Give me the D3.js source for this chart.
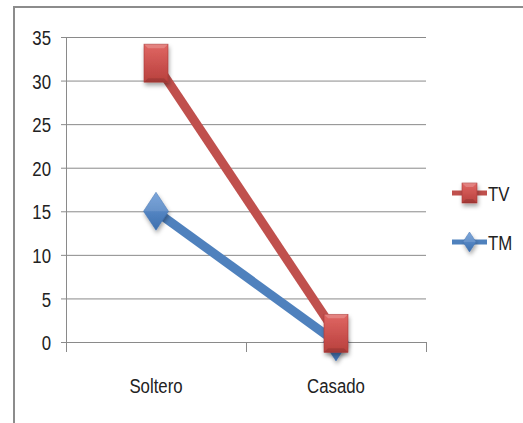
<!DOCTYPE html>
<html><head><meta charset="utf-8">
<script src="https://cdn.jsdelivr.net/npm/d3@7"></script>
<style>
body{margin:0;background:#fff;}
text{font-family:"Liberation Sans Narrow","Arial Narrow","Liberation Sans",sans-serif;fill:#222;}
</style></head>
<body>
<svg id="c" width="523" height="423"></svg>
<script>
const categories = ["Soltero", "Casado"];
const seriesNames = ["TV", "TM"];
const tvValues = [32, 1];
const tmValues = [15, 0];
const yTicks = [0, 5, 10, 15, 20, 25, 30, 35];

const svg = d3.select("#c");
const W = 523, H = 423;
const colors = {TV: "#c0504d", TM: "#4f81bd"};
const SX = 0.8;

const defs = svg.append("defs");
const f = defs.append("filter").attr("id","sh").attr("x","-50%").attr("y","-50%").attr("width","200%").attr("height","200%");
f.append("feDropShadow").attr("dx",1).attr("dy",3).attr("stdDeviation",2).attr("flood-color","#000").attr("flood-opacity",0.35);
function grad(id, c1, c2){
  const g = defs.append("linearGradient").attr("id",id).attr("x1",0).attr("y1",0).attr("x2",0).attr("y2",1);
  g.append("stop").attr("offset","0%").attr("stop-color",c1);
  g.append("stop").attr("offset","100%").attr("stop-color",c2);
}
grad("gRed","#e06663","#b8403d");
grad("gBlue","#6a9ad6","#3d6fae");

svg.append("line").attr("x1",14).attr("x2",W).attr("y1",7).attr("y2",7).attr("stroke","#8c8c8c").attr("stroke-width",2);
svg.append("line").attr("x1",14).attr("x2",14).attr("y1",6).attr("y2",H).attr("stroke","#8c8c8c").attr("stroke-width",2);

const x = d3.scaleBand().domain(categories).range([66, 426]);
const y = d3.scaleLinear().domain([0, 35]).range([342, 37]);

const yAxis = d3.axisLeft(y).tickValues(yTicks).tickSize(0).tickPadding(0).tickSizeOuter(0);
const gy = svg.append("g").attr("transform","translate(66,0)").call(yAxis);
gy.select(".domain").remove();
gy.selectAll(".tick line").attr("x1",-5).attr("x2",360).attr("stroke","#8a8a8a").attr("stroke-width",1);
gy.selectAll(".tick text").attr("font-size",21).attr("font-family",null).attr("fill","#222")
  .attr("x",0).attr("dy","0.36em").attr("transform",`translate(-15,0) scale(${SX},1)`);

svg.append("line").attr("x1",66.5).attr("x2",66.5).attr("y1",37).attr("y2",352).attr("stroke","#8a8a8a");
categories.forEach((c,i)=>{
  const xx = x(c) + x.bandwidth();
  svg.append("line").attr("x1",xx+0.5).attr("x2",xx+0.5).attr("y1",342).attr("y2",352).attr("stroke","#8a8a8a");
});
svg.selectAll(".cat").data(categories).enter().append("text")
  .attr("transform", d => `translate(${x(d) + x.bandwidth()/2},393) scale(${SX},1)`)
  .attr("text-anchor","middle").attr("font-size",21).text(d=>d);

const cx = d => x(d) + x.bandwidth()/2;
const line = d3.line().x((d,i)=>cx(categories[i])).y(d=>y(d));

svg.append("path").datum(tmValues).attr("d",line).attr("fill","none").attr("stroke",colors.TM).attr("stroke-width",9);
svg.append("path").datum(tvValues).attr("d",line).attr("fill","none").attr("stroke",colors.TV).attr("stroke-width",9);

function diamond(g, cxv, cyv, w, h){
  g.append("path").attr("d",`M${cxv},${cyv-h/2}L${cxv+w/2},${cyv}L${cxv},${cyv+h/2}L${cxv-w/2},${cyv}Z`)
   .attr("fill","url(#gBlue)").attr("stroke","#3d6fae").attr("stroke-width",0.5).attr("filter","url(#sh)");
  g.append("path").attr("d",`M${cxv-w/2},${cyv}L${cxv},${cyv-h/2}L${cxv+w/2},${cyv}Z`).attr("fill","#ffffff").attr("opacity",0.12);
}
function square(g, cxv, cyv, w, h){
  g.append("rect").attr("x",cxv-w/2).attr("y",cyv-h/2).attr("width",w).attr("height",h)
   .attr("fill","url(#gRed)").attr("stroke","#a83a37").attr("stroke-width",0.6).attr("filter","url(#sh)");
  g.append("path").attr("d",`M${cxv-w/2},${cyv-h/2}L${cxv+w/2},${cyv-h/2}L${cxv+w/2-4},${cyv-h/2+4}L${cxv-w/2+4},${cyv-h/2+4}Z`).attr("fill","#fff").attr("opacity",0.2);
  g.append("path").attr("d",`M${cxv-w/2},${cyv+h/2}L${cxv+w/2},${cyv+h/2}L${cxv+w/2-4},${cyv+h/2-4}L${cxv-w/2+4},${cyv+h/2-4}Z`).attr("fill","#000").attr("opacity",0.12);
}
const mk = svg.append("g");
tmValues.forEach((v,i)=>diamond(mk, cx(categories[i]), y(v), 25, 38));
tvValues.forEach((v,i)=>square(mk, cx(categories[i]), y(v), 24, 38));

const legY = {TV: 193, TM: 242};
seriesNames.forEach(s=>{
  svg.append("line").attr("x1",452).attr("x2",487).attr("y1",legY[s]).attr("y2",legY[s]).attr("stroke",colors[s]).attr("stroke-width",5);
  if (s==="TV") square(svg, 469.5, legY[s], 15, 20);
  else diamond(svg, 469.5, legY[s], 13, 20);
  svg.append("text").attr("transform",`translate(488,${legY[s]+8}) scale(${SX},1)`).attr("font-size",21).text(s);
});
</script>
</body></html>
